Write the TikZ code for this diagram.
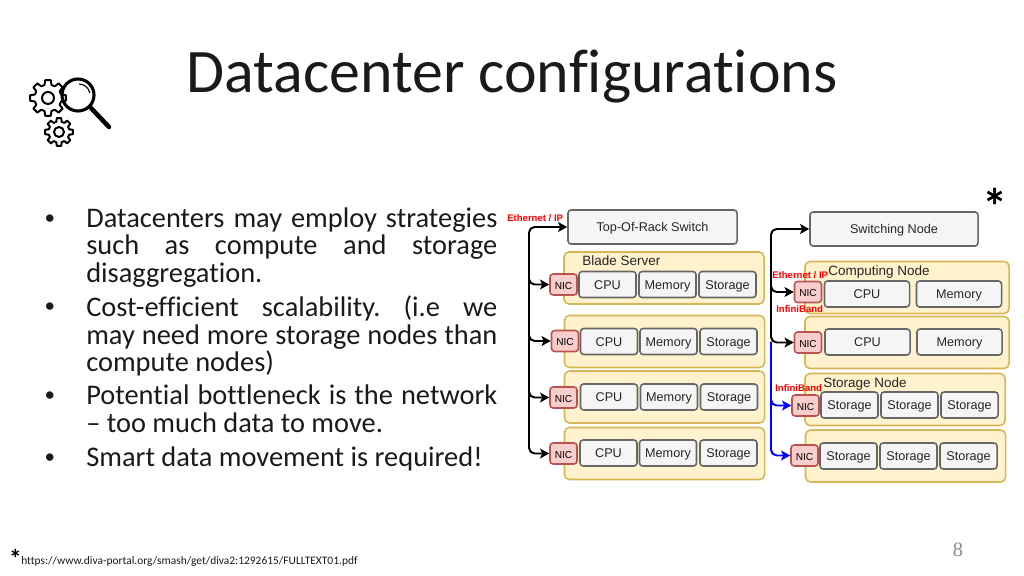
\documentclass[tikz,border=0pt]{standalone}
\usepackage{fontspec}
\setmainfont{Carlito}[Ligatures={TeX,NoCommon}]
\newfontfamily\helvfont{Liberation Sans}
\newfontfamily\pagefont{Liberation Serif}
\usetikzlibrary{arrows.meta}
\definecolor{boxfill}{HTML}{F5F5F5}
\definecolor{boxline}{HTML}{666666}
\definecolor{bladefill}{HTML}{FFF2CC}
\definecolor{bladeline}{HTML}{D6B656}
\definecolor{nicfill}{HTML}{F8CECC}
\definecolor{nicline}{HTML}{B85450}
\definecolor{bodyink}{HTML}{1A1A1A}
\definecolor{pageink}{HTML}{8C8C8C}
\tikzset{
  cell/.style={draw=boxline, fill=boxfill, line width=1.1pt, rounded corners=2.2pt, inner sep=0pt, minimum width=1.425cm, minimum height=0.65cm, text height=1.75ex, text depth=0.37ex, font=\helvfont\fontsize{9}{10}\selectfont, text=black!85},
  widecell/.style={cell, minimum width=2.125cm},
  topbox/.style={cell, minimum width=4.225cm, minimum height=0.85cm},
  nic/.style={draw=nicline, fill=nicfill, line width=1.1pt, rounded corners=2.2pt, inner sep=0pt, minimum width=0.675cm, minimum height=0.525cm, text height=1.75ex, text depth=0.37ex, font=\helvfont\fontsize{7.2}{9}\selectfont},
  rack/.style={draw=bladeline, fill=bladefill, line width=1.1pt, rounded corners=3.5pt, minimum width=5cm, minimum height=1.3cm},
  racktitle/.style={inner sep=0pt, anchor=west, font=\helvfont\fontsize{9.6}{11}\selectfont, text=black!85},
  tag/.style={inner sep=0pt, anchor=west, text=red, font=\helvfont\bfseries\fontsize{6.8}{8}\selectfont},
  wire/.style={line width=1.4pt, rounded corners=4pt, -{Stealth[length=6.5pt,width=7pt,inset=1.5pt]}},
  bodyitem/.style={inner sep=0pt, anchor=north west, text width=10.275cm, align=justify, text=bodyink, font=\fontsize{20.2}{19.6}\selectfont\frenchspacing},
  bulletdot/.style={inner sep=0pt, text=bodyink, font=\fontsize{15}{15}\selectfont},
  icon/.style={draw=black, line width=1.4pt, line join=round}
}
\newcommand{\geartool}[5]{% x, y, outer, inner, hole
  \draw[icon, shift={(#1,#2)}] (-9:#3)
    \foreach \a in {0,45,...,315} { -- (\a-9:#3) -- (\a+9:#3) -- (\a+15:#4) -- (\a+30:#4) } -- cycle;
  \draw[icon] (#1,#2) circle (#5);
}
\begin{document}
\begin{tikzpicture}[x=0.025cm, y=-0.025cm]
\useasboundingbox (0,0) rectangle (1024,576);
\node[inner sep=0pt, font=\fontsize{44}{48}\selectfont, text=bodyink] (title) at (512,77){Datacenter configurations};
% icon
\geartool{48}{98}{18}{13.5}{6}
\geartool{59}{132}{14}{10.5}{5}
\draw[black, line width=2.2pt] (78,95) circle (16);
\draw[black, line width=0.8pt] (79,84) arc (-90:-10:11);
\draw[black, line width=3.2pt, line cap=round] (91,108) -- (109,127);
% text
\node[bulletdot] (dotA) at (50,219.5){\textbullet};
\node[bulletdot] (dotB) at (50,307.5){\textbullet};
\node[bulletdot] (dotC) at (50,396.5){\textbullet};
\node[bulletdot] (dotD) at (50,458.5){\textbullet};
\node[bodyitem] (itemA) at (86,207){Datacenters may employ strategies\linebreak such as compute and storage\linebreak disaggregation.};
\node[bodyitem] (itemB) at (86,295.5){Cost-efficient scalability. (i.e we\linebreak may need more storage nodes than\linebreak compute nodes)};
\node[bodyitem] (itemC) at (86,384.5){Potential bottleneck is the network\linebreak -- too much data to move.};
\node[bodyitem] (itemD) at (86,446.5){Smart data movement is required!};
\node[inner sep=0pt, font=\bfseries\fontsize{36}{36}\selectfont] (star) at (995,206){*};
\node[inner sep=0pt, font=\bfseries\fontsize{18}{18}\selectfont] (footstar) at (15.5,558.5){*};
\node[inner sep=0pt, anchor=west, font=\fontsize{8.15}{9}\selectfont, text=bodyink] (source) at (21,562){https://www.diva-portal.org/smash/get/diva2:1292615/FULLTEXT01.pdf};
\node[inner sep=0pt, font=\pagefont\fontsize{14.5}{16}\selectfont, text=pageink] (pagenum) at (958,549.5){8};
% left rack
\node[topbox] (tor) at (652.5,227){Top-Of-Rack Switch};
\node[rack] (bladeA) at (664,278){};
\node[rack] (bladeB) at (664.5,341.5){};
\node[rack] (bladeC) at (664.5,397){};
\node[rack] (bladeD) at (664.5,453.5){};
\node[racktitle] (bladeTitle) at (582,261){Blade Server};
\node[nic] (nicA) at (563.5,284.5){NIC};
\node[cell] (cpuA) at (607.5,284.5){CPU};
\node[cell] (memA) at (667.5,284.5){Memory};
\node[cell] (stoA) at (727.5,284.5){Storage};
\node[nic] (nicB) at (565,341){NIC};
\node[cell] (cpuB) at (609,341.5){CPU};
\node[cell] (memB) at (668.5,341.5){Memory};
\node[cell] (stoB) at (728.5,341.5){Storage};
\node[nic] (nicC) at (563.5,397.5){NIC};
\node[cell] (cpuC) at (609,397){CPU};
\node[cell] (memC) at (669,397){Memory};
\node[cell] (stoC) at (729,397){Storage};
\node[nic] (nicD) at (563.5,453.5){NIC};
\node[cell] (cpuD) at (608.5,453){CPU};
\node[cell] (memD) at (668,453){Memory};
\node[cell] (stoD) at (728.5,453){Storage};
\coordinate (trunkL) at (529,290);
\coordinate (trunkLtop) at (529,240);
\draw[wire] (trunkL) |- (tor.west);
\draw[wire] (trunkLtop) |- (nicA.west);
\draw[wire] (trunkLtop) |- (nicB.west);
\draw[wire] (trunkLtop) |- (nicC.west);
\draw[wire] (trunkLtop) |- (nicD.west);
\node[tag] (tagEthL) at (507,218){Ethernet / IP};
% right rack
\node[topbox, minimum width=4.2cm] (switching) at (894,229){Switching Node};
\node[rack, minimum width=5.1cm] (compA) at (907,287.5){};
\node[rack, minimum width=5.1cm] (compB) at (907,342.5){};
\node[rack] (storeA) at (905,399.5){};
\node[rack] (storeB) at (905.5,456){};
\node[racktitle] (compTitle) at (828,272){Computing Node};
\node[racktitle] (storeTitle) at (823,384){Storage Node};
\node[nic] (nicE) at (808,292){NIC};
\node[widecell] (cpuE) at (867,294){CPU};
\node[widecell] (memE) at (959,294){Memory};
\node[nic] (nicF) at (808,342.5){NIC};
\node[widecell] (cpuF) at (867.5,342){CPU};
\node[widecell] (memF) at (959.5,342){Memory};
\node[nic] (nicG) at (805.5,405.5){NIC};
\node[cell] (stoG) at (849.5,405){Storage};
\node[cell] (stoH) at (909.5,405){Storage};
\node[cell] (stoI) at (969.5,405){Storage};
\node[nic] (nicJ) at (804.5,455.5){NIC};
\node[cell] (stoJ) at (848.5,456){Storage};
\node[cell] (stoK) at (908.5,456){Storage};
\node[cell] (stoL) at (968.5,456){Storage};
\coordinate (trunkR) at (771,290);
\coordinate (trunkRtop) at (771,245);
\coordinate (trunkBlue) at (771,342);
\draw[wire, blue] (trunkBlue) |- (nicG.west);
\draw[wire, blue] (trunkBlue) |- (nicJ.west);
\draw[wire] (trunkR) |- (switching.west);
\draw[wire] (trunkRtop) |- (nicE.west);
\draw[wire] (trunkRtop) |- (nicF.west);
\node[tag] (tagEthR) at (772,275){Ethernet / IP};
\node[tag] (tagIbA) at (776,309){InfiniBand};
\node[tag] (tagIbB) at (775,388){InfiniBand};
\end{tikzpicture}
\end{document}
